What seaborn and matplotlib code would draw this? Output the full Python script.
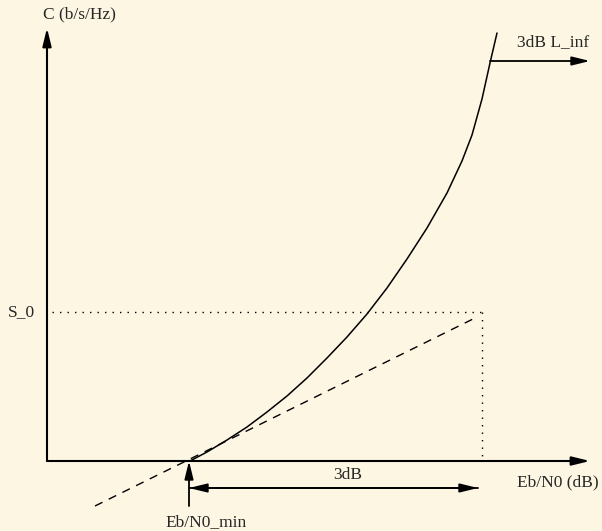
import pandas as pd
import matplotlib
matplotlib.use("Agg")
import matplotlib.pyplot as plt
import seaborn as sns

# Capacity curve (x: Eb/N0 axis units, y: C axis units)
curve_x = [143, 160, 180, 200, 220, 240, 260, 280, 300, 320, 340, 360, 380, 400, 415, 425, 435, 443, 450]
curve_y = [0, 9, 21, 34, 49, 65, 83, 103, 124, 147, 173, 202, 233, 268, 300, 326, 362, 398, 428]

# Dashed tangent at Eb/N0_min
tangent_x = [48, 428]
tangent_y = [-45, 143]

# Reference levels
s0_level = 149
s0_x_end = 435
ebn0_min = 142

BG = '#FDF6E3'

sns.set_theme(style="white")
plt.rcParams['font.family'] = ['Liberation Serif', 'DejaVu Serif']

fig = plt.figure(figsize=(6.02, 5.31), dpi=100, facecolor=BG)
ax = fig.add_axes([0, 0, 1, 1])
ax.set_facecolor(BG)
ax.set_xlim(-47, 555)
ax.set_ylim(-70, 461)
ax.axis('off')

curve = pd.DataFrame({'x': curve_x, 'y': curve_y})
tangent = pd.DataFrame({'x': tangent_x, 'y': tangent_y})

sns.lineplot(data=curve, x='x', y='y', ax=ax, color='black', linewidth=1.1, sort=False)
sns.lineplot(data=tangent, x='x', y='y', ax=ax, color='black', linewidth=1.0,
             linestyle=(0, (6, 5)), sort=False)

# S_0 dotted guides
ax.plot([5, s0_x_end], [s0_level, s0_level], color='black', linewidth=1.0,
        linestyle=(0, (1, 4.4)))
ax.plot([s0_x_end, s0_x_end], [s0_level, 2], color='black', linewidth=1.0,
        linestyle=(0, (1, 4.4)))

def arrow(x0, y0, x1, y1, lw=1.3):
    ax.annotate('', xy=(x1, y1), xytext=(x0, y0),
                arrowprops=dict(arrowstyle='-|>,head_length=0.9,head_width=0.22',
                                color='black', lw=lw, shrinkA=0, shrinkB=0))

# axes
arrow(0, 0, 0, 433, lw=1.5)
arrow(0, 0, 543, 0, lw=1.5)
# Eb/N0_min marker
arrow(ebn0_min, -45, ebn0_min, 0)
# 3dB span
arrow(s0_x_end - 4, -27, ebn0_min, -27)
arrow(ebn0_min, -27, s0_x_end - 4, -27)
# asymptote
arrow(443, 400, 543, 400)

fs = 12.5
ax.text(32, 447, 'C (b/s/Hz)', fontsize=fs, ha='center', va='center')
ax.text(506, 419, '3dB L_inf', fontsize=fs, ha='center', va='center')
ax.text(-26, 149, 'S_0', fontsize=fs, ha='center', va='center')
ax.text(159, -61, 'Eb/N0_min', fontsize=fs, ha='center', va='center')
ax.text(511, -21, 'Eb/N0 (dB)', fontsize=fs, ha='center', va='center')
ax.text(301, -14, '3dB', fontsize=fs, ha='center', va='center')

plt.savefig('out.png', dpi=100, facecolor=BG)
